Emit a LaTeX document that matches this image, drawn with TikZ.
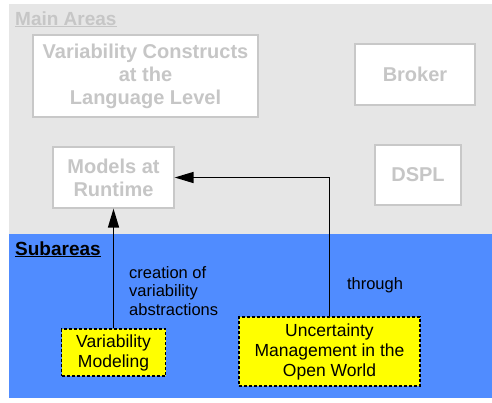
\documentclass[tikz,border=0pt]{standalone}
\usepackage{fontspec}
\setmainfont{Liberation Sans}
\usetikzlibrary{arrows.meta}
\definecolor{areagray}{RGB}{230,230,230}
\definecolor{areablue}{RGB}{80,140,255}
\definecolor{fadedtext}{RGB}{198,198,198}
\definecolor{fadedline}{RGB}{200,200,200}
\definecolor{noteyellow}{RGB}{255,255,0}
\tikzset{
  mainbox/.style={draw=fadedline, line width=1.2pt, fill=white, align=center,
    text=fadedtext, font=\fontsize{20}{23}\selectfont\bfseries, inner sep=0pt},
  subbox/.style={draw=black, line width=1.3pt, dash pattern=on 3pt off 2pt,
    fill=noteyellow, align=center, text=black,
    font=\fontsize{17.5}{20}\selectfont, inner sep=0pt},
  heading/.style={font=\fontsize{19}{22}\selectfont\bfseries, inner sep=0pt},
  edgelabel/.style={font=\fontsize{16.5}{18.5}\selectfont, align=left, inner sep=0pt},
  link/.style={line width=1.5pt, -{Triangle[length=19pt,width=11pt]}},
}
\begin{document}
\begin{tikzpicture}[x=1pt, y=-1pt]
  \useasboundingbox (0,0) rectangle (492,402);
  % two regions
  \fill[areagray] (9,4) rectangle (492,234);
  \fill[areablue] (9,234) rectangle (492,398);

  % headings
  \node[heading, text=fadedtext, anchor=base west] (mainhead) at (15,25) {\underline{Main Areas}};
  \node[heading, text=black, anchor=base west] (subhead) at (15,255) {\underline{Subareas}};

  % main areas
  \node[mainbox, minimum width=225pt, minimum height=82pt] (vcl) at (145.5,76)
    {Variability Constructs\\at the\\Language Level};
  \node[mainbox, minimum width=120pt, minimum height=61pt] (broker) at (415,74.5) {Broker};
  \node[mainbox, minimum width=86pt, minimum height=60pt] (dspl) at (418,175) {DSPL};
  \node[mainbox, minimum width=121pt, minimum height=61pt] (mar) at (113.5,177.5)
    {Models at\\Runtime};

  % subareas
  \node[subbox, minimum width=104pt, minimum height=47pt] (vm) at (113.5,352.5)
    {Variability\\Modeling};
  \node[subbox, minimum width=181pt, minimum height=69pt] (um) at (329.5,351.5)
    {Uncertainty\\Management in the\\Open World};

  % connectors
  \draw[link] (vm.north) -- (mar.south);
  \draw[link] (um.north) |- (mar.east);

  % connector labels
  \node[edgelabel, anchor=west] (lblcreate) at (129,291)
    {creation of\\variability\\abstractions};
  \node[edgelabel] (lblthrough) at (375,285) {through};
\end{tikzpicture}
\end{document}
